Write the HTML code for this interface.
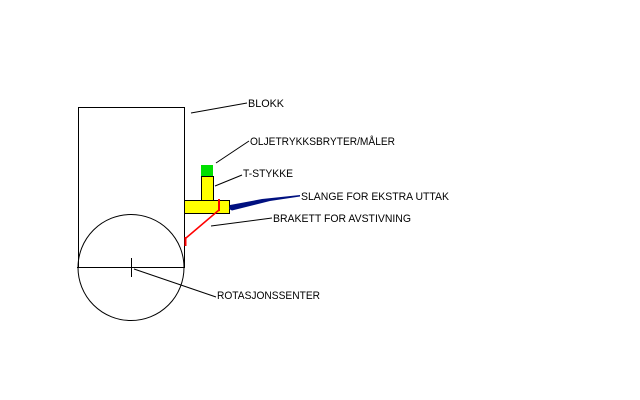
<!DOCTYPE html>
<html><head><style>body{margin:0;background:#fff}svg{display:block}</style></head><body>
<svg width="640" height="400" xmlns="http://www.w3.org/2000/svg" font-family="Liberation Sans, sans-serif" font-size="11">
<rect x="78.5" y="107.5" width="106" height="160" fill="none" stroke="#000"/>
<circle cx="131" cy="267.5" r="53" fill="none" stroke="#000"/>
<line x1="77" y1="267.5" x2="185" y2="267.5" stroke="#000"/>
<line x1="131.5" y1="258" x2="131.5" y2="277" stroke="#000"/>
<rect x="184.5" y="200.5" width="45" height="13" fill="#ffff00" stroke="#000"/>
<rect x="201.5" y="176.5" width="12" height="24" fill="#ffff00" stroke="#000"/>
<rect x="201" y="165" width="12" height="11" fill="#00e000"/>
<line x1="219" y1="199" x2="219" y2="211" stroke="#f00" stroke-width="2"/>
<line x1="219" y1="210" x2="186" y2="238" stroke="#f00" stroke-width="1.5"/>
<line x1="185.5" y1="237" x2="185.5" y2="246" stroke="#f00" stroke-width="2"/>
<polygon points="230,205 262,199 300,195 300,196.5 270,201 232,210.5 229,209" fill="#001080"/>
<g stroke="#000">
<line x1="191" y1="113" x2="247" y2="103"/>
<line x1="216" y1="163" x2="249" y2="141"/>
<line x1="215" y1="186" x2="242" y2="175"/>
<line x1="211" y1="226" x2="272" y2="218"/>
<line x1="134" y1="269" x2="216" y2="297"/>
</g>
<text x="248" y="107" textLength="36" lengthAdjust="spacingAndGlyphs">BLOKK</text>
<text x="250" y="145" textLength="145" lengthAdjust="spacingAndGlyphs">OLJETRYKKSBRYTER/MÅLER</text>
<text x="243" y="177" textLength="50" lengthAdjust="spacingAndGlyphs">T-STYKKE</text>
<text x="301" y="200" textLength="148" lengthAdjust="spacingAndGlyphs">SLANGE FOR EKSTRA UTTAK</text>
<text x="273" y="222" textLength="138" lengthAdjust="spacingAndGlyphs">BRAKETT FOR AVSTIVNING</text>
<text x="217" y="299" textLength="103" lengthAdjust="spacingAndGlyphs">ROTASJONSSENTER</text>
</svg>
</body></html>
